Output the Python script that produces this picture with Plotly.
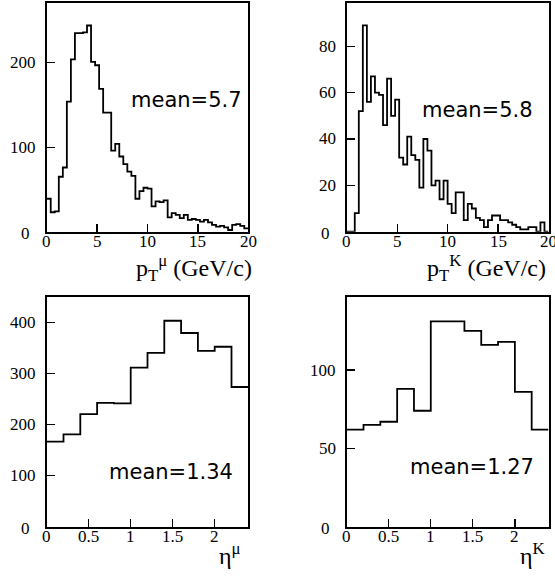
import plotly.graph_objects as go

# ---------------- data ----------------
pt_lo, pt_w = 0.0, 0.4
pt_mu_counts = [39, 23, 24, 65, 76, 154, 204, 235, 235, 236,
                244, 201, 197, 169, 141, 141, 96, 104, 89, 80,
                71, 66, 39, 48, 52, 51, 30, 36, 35, 37,
                17, 22, 20, 16, 20, 14, 15, 14, 12, 14,
                11, 8, 6, 7, 5, 2, 8, 9, 7, 4]
pt_k_counts = [0, 0, 8, 52, 89, 56, 67, 60, 59, 46,
               66, 50, 57, 32, 29, 41, 33, 31, 19, 40,
               35, 20, 22, 14, 22, 12, 8, 17, 17, 5,
               12, 10, 6, 5, 2, 5, 7, 7, 5, 5,
               4, 3, 2, 1, 1, 2, 2, 0, 4, 0]
eta_lo, eta_w = 0.0, 0.2
eta_mu_counts = [167, 181, 221, 243, 242, 312, 341, 404, 380, 345, 353, 274]
eta_k_counts = [62, 65, 67, 88, 74, 131, 131, 125, 116, 118, 86, 62]

pt_ticks = [0, 5, 10, 15, 20]
pt_tick_labels = ["0", "5", "10", "15", "20"]
eta_ticks = [0, 0.5, 1, 1.5, 2]
eta_tick_labels = ["0", "0.5", "1", "1.5", "2"]
y_ticks_1 = [0, 100, 200]
y_ticks_2 = [0, 20, 40, 60, 80]
y_ticks_3 = [0, 100, 200, 300, 400]
y_ticks_4 = [0, 50, 100]
means = ["mean=5.7", "mean=5.8", "mean=1.34", "mean=1.27"]
titles = ["p<sub>T</sub><sup>μ</sup> (GeV/c)", "p<sub>T</sub><sup>K</sup> (GeV/c)",
          "η<sup>μ</sup>", "η<sup>K</sup>"]

# ---------------- figure ----------------
W, H = 555, 576
fig = go.Figure()


def step_xy(lo, w, counts):
    xs = [lo + i * w for i in range(len(counts) + 1)]
    ys = list(counts) + [counts[-1]]
    return xs, ys


panels = [
    dict(lo=pt_lo, w=pt_w, c=pt_mu_counts, xr=[0, 20], yr=[0, 271], xt=pt_ticks,
         xtt=pt_tick_labels, yt=y_ticks_1,
         xd=[46.7, 248.3], yd=[2.7, 231.7]),
    dict(lo=pt_lo, w=pt_w, c=pt_k_counts, xr=[0, 20], yr=[0, 98.8], xt=pt_ticks,
         xtt=pt_tick_labels, yt=y_ticks_2,
         xd=[346.7, 548.5], yd=[2.7, 231.7]),
    dict(lo=eta_lo, w=eta_w, c=eta_mu_counts, xr=[0, 2.4], yr=[0, 450], xt=eta_ticks,
         xtt=eta_tick_labels, yt=y_ticks_3,
         xd=[46.7, 248.3], yd=[297.3, 526.7]),
    dict(lo=eta_lo, w=eta_w, c=eta_k_counts, xr=[0, 2.4], yr=[0, 146.8], xt=eta_ticks,
         xtt=eta_tick_labels, yt=y_ticks_4,
         xd=[346.7, 548.5], yd=[296.7, 526.7]),
]

mean_pos = [(0.408, 0.575), (0.363, 0.531), (0.299, 0.240), (0.303, 0.261)]
title_pos = [(1.03, -0.16), (0.998, -0.16), (0.975, -0.12), (0.995, -0.12)]

serif = "Liberation Serif"
tick_font = dict(family=serif, size=17, color="black")
for i, p in enumerate(panels, start=1):
    xs, ys = step_xy(p["lo"], p["w"], p["c"])
    sfx = "" if i == 1 else str(i)
    fig.add_trace(go.Scatter(x=xs, y=ys, mode="lines", line=dict(color="black", width=1.8, shape="hv"),
                             xaxis="x" + sfx, yaxis="y" + sfx, showlegend=False, hoverinfo="skip"))
    xdom = [p["xd"][0] / W, p["xd"][1] / W]
    ydom = [(H - p["yd"][1]) / H, (H - p["yd"][0]) / H]
    common = dict(showline=True, mirror=True, linecolor="black", linewidth=2, ticks="inside",
                  ticklen=8, tickwidth=1.3, tickcolor="black", showgrid=False, zeroline=False,
                  automargin=False, showticklabels=False)
    fig.layout["xaxis" + sfx] = dict(domain=xdom, range=p["xr"], anchor="y" + sfx,
                                     tickmode="array", tickvals=p["xt"], **common)
    fig.layout["yaxis" + sfx] = dict(domain=ydom, range=p["yr"], anchor="x" + sfx,
                                     tickmode="array", tickvals=p["yt"], **common)
    # tick labels (serif) placed at the axis' own tick values
    for v, t in zip(p["xt"], p["xtt"]):
        fig.add_annotation(text=t, xref="x" + sfx, yref="y" + sfx + " domain", x=v, y=0,
                           xanchor="center", yanchor="top", yshift=2, showarrow=False,
                           font=tick_font)
    for v in p["yt"]:
        is_zero = (v == 0)
        fig.add_annotation(text=str(v), xref="x" + sfx + " domain", yref="y" + sfx, x=0, y=v,
                           xanchor="right", yanchor="middle",
                           xshift=-15 if is_zero else -9, yshift=-1.5 if is_zero else 0,
                           showarrow=False, font=tick_font)
    mx, my = mean_pos[i - 1]
    fig.add_annotation(text=means[i - 1], xref="x" + sfx + " domain", yref="y" + sfx + " domain",
                       x=mx, y=my, xanchor="left", yanchor="middle", showarrow=False,
                       font=dict(family="DejaVu Sans", size=21, color="black"))
    tx, ty = title_pos[i - 1]
    fig.add_annotation(text=titles[i - 1], xref="x" + sfx + " domain", yref="y" + sfx + " domain",
                       x=tx, y=ty, xanchor="right", yanchor="middle", showarrow=False,
                       font=dict(family=serif, size=24, color="black"))

fig.update_layout(template="none", width=W, height=H, margin=dict(l=0, r=0, t=0, b=0, pad=0),
                  font=dict(family=serif, size=17, color="black"),
                  paper_bgcolor="white", plot_bgcolor="white", showlegend=False)
fig.write_html("out.html", config={"displayModeBar": False, "staticPlot": True},
               post_script="document.body.style.margin='0';document.body.style.overflow='hidden';")
